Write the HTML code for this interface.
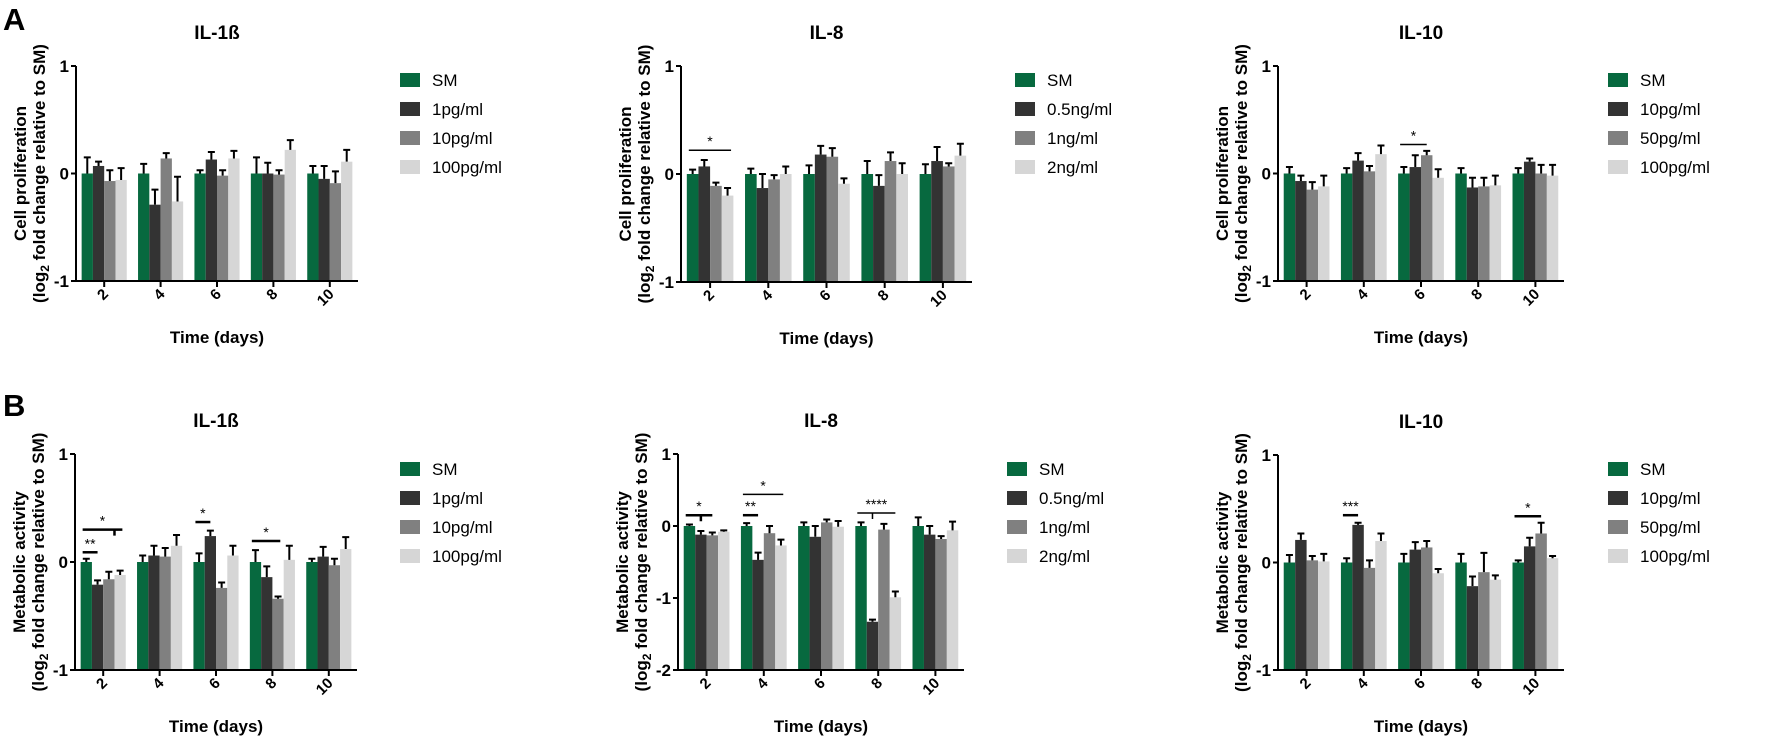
<!DOCTYPE html>
<html><head><meta charset="utf-8"><style>
html,body{margin:0;padding:0;background:#fff;}
svg{display:block;font-family:"Liberation Sans",Arial,sans-serif;}
</style></head>
<body>
<svg id="fig" width="1772" height="737" viewBox="0 0 1772 737">
<text x="3" y="30" font-size="31" font-weight="bold">A</text>
<text x="3" y="416" font-size="31" font-weight="bold">B</text>
</svg>
<script>
const days = ["2","4","6","8","10"];
const colors = ["#07693f","#333333","#808080","#d6d6d6"];
const legendA1 = ["SM","1pg/ml","10pg/ml","100pg/ml"];
const legendA2 = ["SM","0.5ng/ml","1ng/ml","2ng/ml"];
const legendA3 = ["SM","10pg/ml","50pg/ml","100pg/ml"];
// values[series][day]
const valA1 = [[0,0,0,0,0],[0.07,-0.29,0.13,0,-0.05],[-0.07,0.14,-0.02,-0.01,-0.09],[-0.06,-0.26,0.14,0.22,0.11]];
const errA1 = [[0.15,0.09,0.03,0.15,0.07],[0.04,0.14,0.07,0.1,0.12],[0.1,0.05,0.05,0.04,0.11],[0.11,0.23,0.07,0.09,0.11]];
const valA2 = [[0,0,0,0,0],[0.07,-0.13,0.18,-0.11,0.12],[-0.11,-0.05,0.16,0.12,0.07],[-0.2,0,-0.09,0,0.17]];
const errA2 = [[0.04,0.05,0.08,0.12,0.09],[0.06,0.13,0.08,0.1,0.13],[0.03,0.04,0.08,0.08,0.03],[0.07,0.07,0.05,0.1,0.11]];
const valA3 = [[0,0,0,0,0],[-0.07,0.12,0.06,-0.13,0.11],[-0.15,0.02,0.17,-0.12,0],[-0.12,0.18,-0.04,-0.11,-0.02]];
const errA3 = [[0.06,0.05,0.06,0.05,0.05],[0.05,0.07,0.11,0.09,0.03],[0.07,0.05,0.04,0.08,0.08],[0.1,0.08,0.08,0.09,0.1]];
const valB1 = [[0,0,0,0,0],[-0.21,0.06,0.24,-0.14,0.05],[-0.16,0.05,-0.24,-0.34,-0.03],[-0.12,0.15,0.06,0.02,0.12]];
const errB1 = [[0.03,0.06,0.08,0.11,0.03],[0.04,0.09,0.05,0.1,0.09],[0.07,0.08,0.05,0.02,0.06],[0.04,0.1,0.09,0.13,0.11]];
const valB2 = [[0,0,0,0,0],[-0.12,-0.47,-0.15,-1.33,-0.12],[-0.13,-0.1,0.05,-0.05,-0.18],[-0.08,-0.27,-0.01,-0.99,-0.06]];
const errB2 = [[0.02,0.04,0.05,0.05,0.12],[0.05,0.1,0.15,0.03,0.12],[0.04,0.1,0.04,0.08,0.04],[0.02,0.08,0.08,0.08,0.12]];
const valB3 = [[0,0,0,0,0],[0.21,0.35,0.12,-0.22,0.15],[0.02,-0.05,0.14,-0.09,0.27],[0.01,0.2,-0.1,-0.16,0.04]];
const errB3 = [[0.07,0.04,0.08,0.08,0.02],[0.06,0.02,0.07,0.09,0.08],[0.04,0.07,0.06,0.18,0.1],[0.07,0.07,0.04,0.04,0.02]];
// significance: [group, fromBar, toBar, yValue, label, thick, dropAt]
const sigA2 = [[0,0,3.3,0.22,"*",0,null]];
const sigA3 = [[2,0,2,0.27,"*",0,null]];
const sigB1 = [[0,0,1,0.09,"**",1,null],[0,0,3.2,0.30,"*",1,2.5],[2,0,1,0.37,"*",1,null],[3,0,2.2,0.195,"*",1,null]];
const sigB2 = [[0,0,2,0.15,"*",1,1],[1,0,1,0.15,"**",1,null],[1,0,3.2,0.44,"*",0,null],[3,0,3,0.18,"****",0,1]];
const sigB3 = [[1,0,1,0.44,"***",1,null],[4,0,2,0.43,"*",1,null]];

const NS="http://www.w3.org/2000/svg";
const svg=document.getElementById("fig");
function mk(tag,attrs,parent){const e=document.createElementNS(NS,tag);for(const k in attrs)e.setAttribute(k,attrs[k]);(parent||svg).appendChild(e);return e;}

function panel(p){
  const g=mk("g",{});
  
  
  const y=v=>p.bottom-(v-p.ymin)/(p.ymax-p.ymin)*(p.bottom-p.top);
  const sp=(p.xend-p.ax)/5;
  const bw=sp*0.2;
  const gs=i=>p.ax+sp*(i+0.5)-2*bw;
  const bx=(i,b)=>gs(i)+(b+0.5)*bw;
  const t=mk("text",{x:(p.ax+p.xend)/2,y:p.top-27,"font-size":19,"font-weight":"bold","text-anchor":"middle"},g);
  t.textContent=p.title;
  
  
  for(let s=0;s<4;s++){for(let i=0;i<5;i++){
    const v=p.val[s][i],e=p.err[s][i];
    const r=mk("rect",{x:gs(i)+s*bw,y:y(v),width:bw,height:p.bottom-y(v),fill:colors[s]},g);
    
    
    const ye=y(v+e);const cx=bx(i,s);
    const eb=mk("path",{d:`M${cx},${y(v)}V${ye}M${cx-3.5},${ye}H${cx+3.5}`,stroke:"#000","stroke-width":2,fill:"none"},g);
    
    
  }}
  const ax=mk("path",{d:`M${p.ax},${p.top}V${p.bottom}H${p.xend}`,stroke:"#000","stroke-width":2,fill:"none"},g);
  
  
  for(let v=p.ymin;v<=p.ymax;v++){
    mk("path",{d:`M${p.ax-5},${y(v)}H${p.ax}`,stroke:"#000","stroke-width":2},g);
    const tl=mk("text",{x:p.ax-7,y:y(v)+6,"font-size":17,"font-weight":"bold","text-anchor":"end"},g);
    tl.textContent=String(v);
    
    
  }
  for(let i=0;i<5;i++){
    const cx=p.ax+sp*(i+0.5);
    mk("path",{d:`M${cx},${p.bottom}V${p.bottom+6}`,stroke:"#000","stroke-width":2},g);
    const tl=mk("text",{x:0,y:0,"font-size":15,"font-weight":"bold","text-anchor":"end",transform:`translate(${cx+5},${p.bottom+14}) rotate(-45)`},g);
    tl.textContent=days[i];
    
    
  }
  const xl=mk("text",{x:(p.ax+p.xend)/2,y:p.bottom+62,"font-size":17,"font-weight":"bold","text-anchor":"middle"},g);
  xl.textContent="Time (days)";
  
  
  const mid=(p.top+p.bottom)/2;
  const yl=mk("text",{x:0,y:0,"font-size":17,"font-weight":"bold","text-anchor":"middle",transform:`translate(${p.ax-50},${mid}) rotate(-90)`},g);
  yl.textContent=p.ylabel;
  
  
  const yl2=mk("text",{x:0,y:0,"font-size":17,"font-weight":"bold","text-anchor":"middle",transform:`translate(${p.ax-31},${mid}) rotate(-90)`},g);
  yl2.innerHTML='(log<tspan font-size="12" dy="4">2</tspan><tspan dy="-4"> fold change relative to SM)</tspan>';
  
  
  for(let s=0;s<4;s++){
    const ly=p.ly+s*29;
    const sw=mk("rect",{x:p.lx,y:ly-7,width:20,height:14,fill:colors[s]},g);
    
    
    const lt=mk("text",{x:p.lx+32,y:ly+6,"font-size":17},g);
    lt.textContent=p.legend[s];
    
    
  }
  (p.sig||[]).forEach(sg=>{
    const [gi,f,tb,v,lab,thick,drop]=sg;
    const x1=gs(gi)+f*bw+2, x2=gs(gi)+(tb+0.5)*bw;
    const yy=y(v);
    const ln=mk("path",{d:`M${x1},${yy}H${x2}`+(drop!=null?`M${bx(gi,drop)},${yy}V${yy+6}`:""),stroke:"#000","stroke-width":thick?2.5:1.5,fill:"none"},g);
    
    
    const st=mk("text",{x:(x1+x2)/2,y:yy-4,"font-size":14,"text-anchor":"middle"},g);
    st.textContent=lab;
    
    
  });
}
const CP="Cell proliferation", MA="Metabolic activity";
panel({id:"panel-a-il1b",title:"IL-1ß",ax:76,xend:358,top:66,bottom:281,ymin:-1,ymax:1,val:valA1,err:errA1,legend:legendA1,lx:400,ly:80,ylabel:CP});
panel({id:"panel-a-il8",title:"IL-8",ax:681,xend:972,top:66,bottom:282,ymin:-1,ymax:1,val:valA2,err:errA2,legend:legendA2,lx:1015,ly:80,ylabel:CP,sig:sigA2});
panel({id:"panel-a-il10",title:"IL-10",ax:1278,xend:1564,top:66,bottom:281,ymin:-1,ymax:1,val:valA3,err:errA3,legend:legendA3,lx:1608,ly:80,ylabel:CP,sig:sigA3});
panel({id:"panel-b-il1b",title:"IL-1ß",ax:75,xend:357,top:454,bottom:670,ymin:-1,ymax:1,val:valB1,err:errB1,legend:legendA1,lx:400,ly:469,ylabel:MA,sig:sigB1});
panel({id:"panel-b-il8",title:"IL-8",ax:678,xend:964,top:454,bottom:670,ymin:-2,ymax:1,val:valB2,err:errB2,legend:legendA2,lx:1007,ly:469,ylabel:MA,sig:sigB2});
panel({id:"panel-b-il10",title:"IL-10",ax:1278,xend:1564,top:455,bottom:670,ymin:-1,ymax:1,val:valB3,err:errB3,legend:legendA3,lx:1608,ly:469,ylabel:MA,sig:sigB3});
</script>
</body></html>
